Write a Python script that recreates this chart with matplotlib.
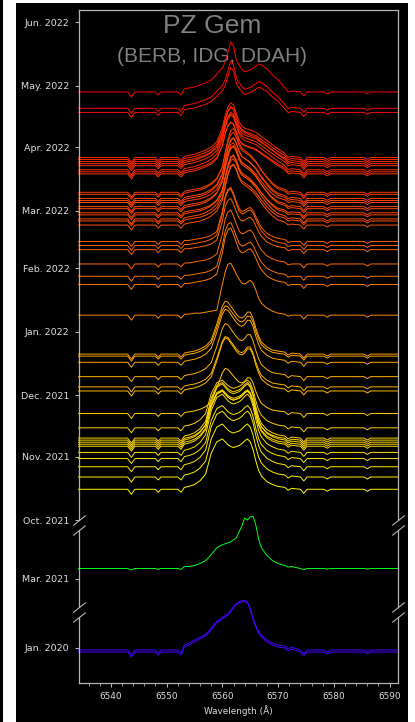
import datetime as dt
import numpy as np
import matplotlib
matplotlib.use("Agg")
import matplotlib.pyplot as plt
import matplotlib.dates as mdates
from matplotlib.patches import Rectangle
from matplotlib.ticker import MultipleLocator, AutoMinorLocator

# wavelength nodes (Angstrom): blue continuum, H-alpha region, red continuum
wave_blue = [6534.2, 6537.0, 6540.0, 6543.0, 6543.7, 6544.3, 6546.5, 6548.0,
             6548.5, 6549.0, 6552.0, 6552.6]
wave_line = [6553.2, 6554.0, 6555.0, 6556.0, 6557.0, 6558.0, 6559.0, 6560.0,
             6560.5, 6561.0, 6561.5, 6562.0, 6562.5, 6563.0, 6563.5, 6564.0,
             6564.5, 6565.0, 6565.5, 6566.0, 6566.5, 6567.0, 6568.0, 6569.0,
             6570.0, 6571.2, 6571.8, 6572.4]
wave_red = [6574.0, 6574.6, 6575.2, 6578.2, 6578.8, 6579.4, 6582.0, 6585.4,
            6586.0, 6586.6, 6589.0, 6591.5]

# depth of the narrow absorption features (telluric / DIB), same for every night
absorb_blue = [0, 0, 0, 0, 0.20, 0, 0, 0, 0.12, 0, 0, 0.12]
absorb_line = [0] * 26 + [0.08, 0]
absorb_red = [0, 0.16, 0, 0, 0.08, 0, 0, 0, 0.08, 0, 0, 0]

# H-alpha emission above the continuum (continuum units) on wave_line
prof_jan20 = [0.20, 0.28, 0.40, 0.52, 0.64, 0.88, 1.16, 1.32, 1.40, 1.48, 1.60, 1.76, 1.88, 1.96,
              2.00, 2.00, 1.96, 1.68, 1.28, 1.00, 0.76, 0.60, 0.40, 0.28, 0.20, 0.16, 0.12, 0.12]
prof_mar21 = [0.08, 0.08, 0.12, 0.20, 0.32, 0.56, 0.84, 0.96, 1.00, 1.04, 1.08, 1.16, 1.24, 1.48,
              1.72, 2.04, 1.96, 2.08, 2.12, 1.76, 1.20, 0.84, 0.52, 0.32, 0.20, 0.12, 0.08, 0.08]
prof_nov21 = [0.08, 0.12, 0.20, 0.36, 0.64, 1.52, 2.00, 2.12, 2.00, 1.88, 1.80, 1.76, 1.80, 1.84,
              1.92, 2.04, 2.12, 2.00, 1.68, 1.20, 0.80, 0.56, 0.32, 0.20, 0.12, 0.08, 0.04, 0.04]
prof_dec21 = [0.04, 0.08, 0.12, 0.20, 0.32, 0.56, 1.20, 1.92, 2.12, 2.08, 1.92, 1.76, 1.60, 1.48,
              1.44, 1.52, 1.68, 1.68, 1.44, 1.04, 0.72, 0.48, 0.28, 0.16, 0.12, 0.08, 0.04, 0.04]
prof_jan22 = [0.04, 0.04, 0.08, 0.08, 0.12, 0.16, 0.20, 1.24, 1.72, 2.04, 2.08, 1.88, 1.64, 1.44,
              1.28, 1.24, 1.32, 1.40, 1.28, 1.00, 0.68, 0.48, 0.28, 0.16, 0.08, 0.04, 0.04, 0.00]
prof_feb22 = [0.04, 0.04, 0.08, 0.12, 0.16, 0.24, 0.40, 1.20, 1.80, 2.08, 2.16, 1.92, 1.60, 1.32,
              1.20, 1.24, 1.32, 1.36, 1.24, 1.00, 0.76, 0.56, 0.32, 0.20, 0.12, 0.08, 0.04, 0.00]
prof_mar22 = [0.04, 0.08, 0.12, 0.16, 0.24, 0.36, 0.56, 1.00, 1.52, 2.00, 2.32, 2.40, 2.20, 1.88,
              1.68, 1.60, 1.52, 1.44, 1.32, 1.20, 1.04, 0.88, 0.60, 0.36, 0.20, 0.12, 0.08, 0.04]
prof_apr22 = [0.04, 0.08, 0.12, 0.20, 0.28, 0.40, 0.60, 1.12, 1.60, 1.92, 2.08, 2.00, 1.68, 1.36,
              1.20, 1.12, 1.08, 1.04, 1.00, 0.96, 0.88, 0.80, 0.64, 0.48, 0.32, 0.16, 0.08, 0.04]
prof_may22 = [0.12, 0.16, 0.20, 0.28, 0.36, 0.48, 0.72, 0.96, 1.20, 1.60, 2.00, 1.84, 1.28, 1.08,
              0.92, 0.80, 0.84, 0.88, 0.96, 1.04, 1.12, 1.08, 0.92, 0.68, 0.48, 0.16, 0.08, 0.04]

profiles = {"jan20": prof_jan20, "mar21": prof_mar21, "nov21": prof_nov21,
            "dec21": prof_dec21, "jan22": prof_jan22, "feb22": prof_feb22,
            "mar22": prof_mar22, "apr22": prof_apr22, "may22": prof_may22}
abs_strength = {"mar21": 0.3}

# observing nights, profile type and relative line strength
obs_dates = ["2019-12-30", "2019-12-31", "2021-03-06",
             "2021-10-16", "2021-10-22", "2021-10-27", "2021-10-31", "2021-11-03",
             "2021-11-06", "2021-11-07", "2021-11-08", "2021-11-09", "2021-11-10",
             "2021-11-15", "2021-11-22", "2021-12-03", "2021-12-05", "2021-12-10",
             "2021-12-17", "2021-12-20", "2021-12-21", "2022-01-09", "2022-01-24",
             "2022-01-28", "2022-02-03", "2022-02-10", "2022-02-12", "2022-02-14",
             "2022-02-22", "2022-02-24", "2022-02-25", "2022-02-27", "2022-02-28",
             "2022-03-02", "2022-03-03", "2022-03-05", "2022-03-06", "2022-03-07",
             "2022-03-09", "2022-03-10", "2022-03-19", "2022-03-20", "2022-03-21",
             "2022-03-23", "2022-03-24", "2022-03-25", "2022-03-26", "2022-03-27",
             "2022-04-18", "2022-04-20", "2022-04-28"]
obs_profile = ["jan20", "jan20", "mar21",
               "nov21", "nov21", "nov21", "nov21", "nov21",
               "nov21", "nov21", "nov21", "nov21", "nov21",
               "nov21", "dec21", "dec21", "dec21", "dec21",
               "dec21", "dec21", "dec21", "jan22", "feb22",
               "feb22", "feb22", "feb22", "feb22", "feb22",
               "mar22", "mar22", "mar22", "mar22", "mar22",
               "mar22", "mar22", "mar22", "mar22", "mar22",
               "mar22", "mar22", "apr22", "apr22", "apr22",
               "apr22", "apr22", "apr22", "apr22", "apr22",
               "may22", "may22", "may22"]
obs_amp = [1.0, 0.98, 1.0,
           0.95, 1.0, 1.05, 1.0, 1.1,
           1.05, 1.0, 1.1, 0.95, 1.05,
           0.9, 0.85, 1.0, 0.95, 1.0,
           1.0, 0.95, 1.0, 1.0, 1.05,
           1.0, 1.0, 0.95, 1.05, 1.0,
           1.0, 0.95, 1.05, 1.0, 0.9,
           1.1, 1.0, 0.95, 1.05, 1.0,
           1.1, 1.0, 1.0, 0.95, 1.05,
           1.0, 1.1, 0.95, 1.0, 1.05,
           0.9, 0.95, 1.0]

# axis ranges (dates) of the three broken panels
panel_ranges = [("2021-10-01", "2022-06-07"),
                ("2021-02-15", "2021-03-25"),
                ("2019-12-15", "2020-01-16")]

SCALE = 12.2          # days per unit of normalised flux
GRAY = "#b4b4b4"
TXT = "#dcdcdc"


def to_num(s):
    return mdates.date2num(dt.datetime.strptime(s, "%Y-%m-%d"))


wave = np.array(wave_blue + wave_line + wave_red)
absorb = np.array(absorb_blue + absorb_line + absorb_red)
n_blue, n_red = len(wave_blue), len(wave_red)

fig = plt.figure(figsize=(4.15, 7.22), dpi=100, facecolor="white")
fig.add_artist(Rectangle((16 / 415, 0), 392 / 415, 719 / 722, transform=fig.transFigure,
                         facecolor="black", edgecolor="none", zorder=-10))
fig.add_artist(Rectangle((0, 0), 3 / 415, 1, transform=fig.transFigure,
                         facecolor="black", edgecolor="none", zorder=-10))

left, width = 78.5 / 415, 319.5 / 415
ax_top = fig.add_axes([left, 202 / 722, width, 510 / 722])
ax_mid = fig.add_axes([left, 115 / 722, width, 77 / 722], sharex=ax_top)
ax_bot = fig.add_axes([left, 39 / 722, width, 66 / 722], sharex=ax_top)
axes = [ax_top, ax_mid, ax_bot]

cmap = plt.get_cmap("gist_rainbow")
t_first = min(to_num(d) for d in obs_dates)
t_last = max(to_num(d) for d in obs_dates)

for date, prof, amp in zip(obs_dates, obs_profile, obs_amp):
    t = to_num(date)
    emis = np.concatenate([np.zeros(n_blue), np.array(profiles[prof]), np.zeros(n_red)])
    flux = 1 + amp * emis - abs_strength.get(prof, 1.0) * absorb
    frac = (t - t_first) / (t_last - t_first)
    color = cmap(0.82 - 0.79 * frac)
    for ax, (lo, hi) in zip(axes, panel_ranges):
        if to_num(lo) <= t <= to_num(hi):
            ax.plot(wave, t + SCALE * (flux - 1), color=color, lw=0.7, clip_on=False)

for ax, (lo, hi) in zip(axes, panel_ranges):
    ax.set_facecolor("black")
    ax.set_ylim(to_num(lo), to_num(hi))
    ax.yaxis.set_major_locator(mdates.MonthLocator())
    ax.yaxis.set_major_formatter(mdates.DateFormatter("%b. %Y"))
    ax.tick_params(axis="y", colors=GRAY, labelcolor=TXT, labelsize=6.8, length=3, width=0.8)
    for sp in ax.spines.values():
        sp.set_color(GRAY)
        sp.set_linewidth(0.9)

ax_top.spines["bottom"].set_visible(False)
ax_mid.spines["top"].set_visible(False)
ax_mid.spines["bottom"].set_visible(False)
ax_bot.spines["top"].set_visible(False)
for ax in (ax_top, ax_mid):
    ax.tick_params(axis="x", which="both", bottom=False, labelbottom=False)

ax_bot.set_xlim(6534.2, 6591.5)
ax_bot.xaxis.set_major_locator(MultipleLocator(10))
ax_bot.xaxis.set_minor_locator(AutoMinorLocator(5))
ax_bot.tick_params(axis="x", which="major", colors=GRAY, labelcolor=TXT, labelsize=6.4,
                   length=3, width=0.8)
ax_bot.tick_params(axis="x", which="minor", colors=GRAY, length=1.8, width=0.6)
ax_bot.set_xlabel("Wavelength (Å)", color=TXT, fontsize=6.4, labelpad=3)

# break marks
kw = dict(marker=[(-1, -0.8), (1, 0.8)], markersize=9, linestyle="none",
          color=GRAY, mec=GRAY, mew=0.8, clip_on=False)
ax_top.plot([0, 1], [0, 0], transform=ax_top.transAxes, **kw)
ax_mid.plot([0, 1], [1, 1], transform=ax_mid.transAxes, **kw)
ax_mid.plot([0, 1], [0, 0], transform=ax_mid.transAxes, **kw)
ax_bot.plot([0, 1], [1, 1], transform=ax_bot.transAxes, **kw)

ax_top.text(0.419, 0.969, "PZ Gem", transform=ax_top.transAxes, ha="center", va="center",
            fontsize=19, color="#808080", family="Liberation Sans", zorder=1)
ax_top.text(0.419, 0.908, "(BERB, IDG, DDAH)", transform=ax_top.transAxes, ha="center",
            va="center", fontsize=15, color="#808080", family="Liberation Sans", zorder=1)

fig.savefig("out.png", dpi=100, facecolor=fig.get_facecolor())
